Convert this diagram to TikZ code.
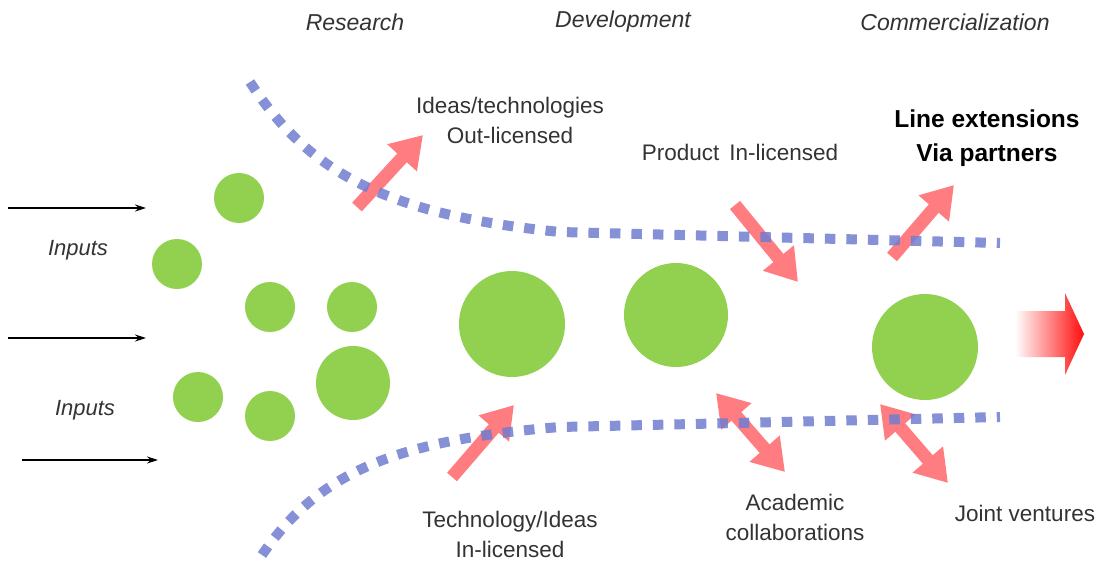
\documentclass[tikz,border=0pt]{standalone}
\usepackage{fontspec}
\setmainfont{Liberation Sans}
\usetikzlibrary{arrows.meta,positioning}
\definecolor{leafgreen}{RGB}{146,208,80}
\definecolor{pipeblue}{RGB}{112,124,208}
\definecolor{flowred}{RGB}{255,124,128}

\begin{document}
\begin{tikzpicture}[x=1pt,y=-1pt]

\tikzset{blob/.style={circle,fill=leafgreen,inner sep=0pt,minimum size=#1},
pipe/.style={pipeblue,opacity=0.85,line width=10pt,dash pattern=on 10.5pt off 11pt},
fat/.style={flowred,line width=13pt,-{Triangle[length=31pt,width=38pt]}},
fatboth/.style={flowred,line width=13pt,{Triangle[length=31pt,width=38pt]}-{Triangle[length=31pt,width=38pt]}},
stage/.style={font=\fontsize{23}{26}\selectfont\itshape,text=black!80},
lab/.style={font=\fontsize{22.5}{30}\selectfont,align=center,text=black!80},
feed/.style={-{Stealth[length=11pt,width=7pt]},line width=1.1pt}}

\useasboundingbox (0,0) rectangle (1101,563);

% Stage titles
\node[stage] (research) at (355,22) {Research};
\node[stage] (develop) at (623,22) {Development};
\node[stage] (commerce) at (955,22) {Commercialization};

% Inputs
\foreach \u/\xa/\xb/\y in {in1/8/146/208, in2/8/146/338, in3/22/158/460} {
	\coordinate (\u a) at (\xa,\y);
	\coordinate (\u b) at (\xb,\y);
	\draw[feed] (\u a) -- (\u b);
}
\node[stage,font=\fontsize{22}{26}\selectfont\itshape] (inputsTop) at (78,250) {Inputs};
\node[stage,font=\fontsize{22}{26}\selectfont\itshape] (inputsBot) at (85,410) {Inputs};

% Ideas
\foreach \u/\x/\y/\d in {c1/239/198/50, c2/177/264/50, c3/270/307/50, c4/352/307/50,
	c5/198/397/50, c6/270/416/50, c7/353/383/74, c8/512/324/106, c9/676/315/104,
	c10/925/347/106}
	\node[blob=\d pt] (\u) at (\x,\y) {};

% Licensing arrows
\coordinate (outA) at (357,207);  \coordinate (outB) at (423,135);
\coordinate (prodA) at (735,205); \coordinate (prodB) at (798,282);
\coordinate (lineA) at (892,257); \coordinate (lineB) at (954,185);
\coordinate (techA) at (452,477); \coordinate (techB) at (514,405);
\coordinate (acadA) at (716,393); \coordinate (acadB) at (785,472);
\coordinate (jointA) at (880,404); \coordinate (jointB) at (948,483);
\foreach \u in {out, prod, line, tech} \draw[fat] (\u A) -- (\u B);
\foreach \u in {acad, joint} \draw[fatboth] (\u A) -- (\u B);

% Funnel walls
\coordinate (topStart) at (250,82);  \coordinate (topMid) at (560,232);  \coordinate (topEnd) at (1000,243);
\coordinate (botStart) at (262,555); \coordinate (botMid) at (560,427);  \coordinate (botEnd) at (1000,417);
\draw[pipe] (topStart) .. controls (310,175) and (390,215) .. (topMid) -- (topEnd);
\draw[pipe] (botStart) .. controls (320,470) and (400,440) .. (botMid) -- (botEnd);

% Market arrow
\shade[left color=white,right color=red!95]
	(1015,311) -- (1065,311) -- (1065,293) -- (1084,334) -- (1065,375) -- (1065,357) -- (1015,357) -- cycle;

% Labels
\node[lab] (outLab) at (510,120) {Ideas/technologies\\Out-licensed};
\node[lab] (prodLab) at (740,152) {Product\, In-licensed};
\node[lab,font=\fontsize{24.5}{34}\selectfont\bfseries,text=black] (lineLab) at (987,138) {Line extensions\\Via partners};
\node[lab] (techLab) at (510,534) {Technology/Ideas\\In-licensed};
\node[lab] (acadLab) at (795,517) {Academic\\collaborations};
\node[lab] (jointLab) at (1025,513) {Joint ventures};
\end{tikzpicture}
\end{document}
